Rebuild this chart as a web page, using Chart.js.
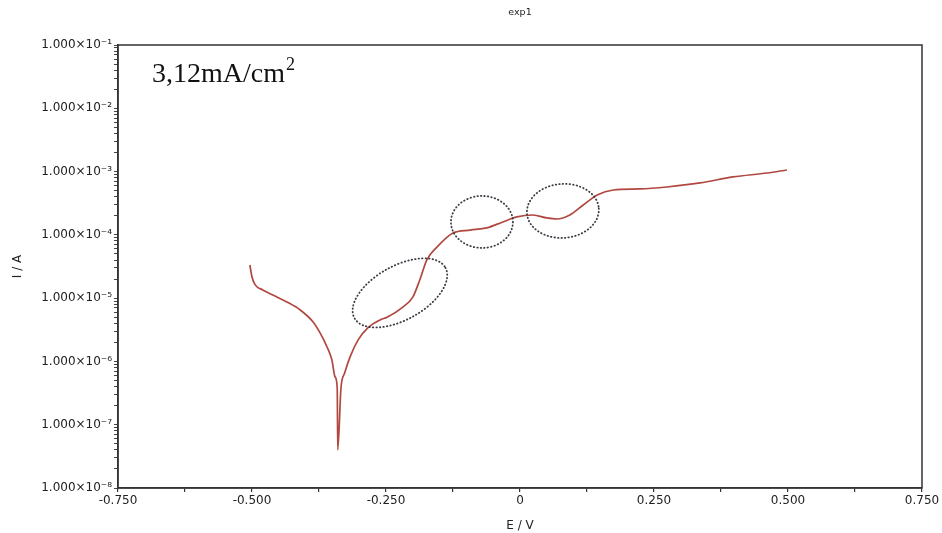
<!doctype html>
<html>
<head>
<meta charset="utf-8">
<title>exp1</title>
<script src="https://cdn.jsdelivr.net/npm/chart.js@4.4.1/dist/chart.umd.min.js"></script>
<style>
  html,body{margin:0;padding:0;background:#fff;}
</style>
</head>
<body>
<canvas id="tafel" width="942" height="533"></canvas>
<script>
// potentiodynamic sweep, E in volts, I in amperes
const potential = [-0.504, -0.500, -0.494, -0.480, -0.461, -0.435, -0.410, -0.386, -0.373, -0.360,
  -0.351, -0.345, -0.341, -0.340, -0.334, -0.327, -0.317, -0.302, -0.284, -0.261,
  -0.248, -0.218, -0.200, -0.187, -0.174, -0.155, -0.125, -0.093, -0.062, -0.032,
  -0.006, 0.024, 0.050, 0.069, 0.093, 0.118, 0.144, 0.174, 0.224, 0.274,
  0.336, 0.397, 0.461, 0.498];
const current = [3.34e-5, 2.16e-5, 1.62e-5, 1.35e-5, 1.12e-5, 8.7e-6, 6.5e-6, 4.2e-6, 2.82e-6, 1.69e-6,
  1.06e-6, 5.7e-7, 3.8e-7, 4.0e-8, 3.8e-7, 6.6e-7, 1.18e-6, 2.19e-6, 3.38e-6, 4.53e-6,
  5.0e-6, 7.3e-6, 1.04e-5, 1.94e-5, 4.0e-5, 6.4e-5, 1.07e-4, 1.19e-4, 1.29e-4, 1.60e-4,
  1.92e-4, 2.06e-4, 1.85e-4, 1.78e-4, 2.06e-4, 2.96e-4, 4.27e-4, 5.12e-4, 5.31e-4, 5.71e-4,
  6.61e-4, 8.22e-4, 9.5e-4, 1.06e-3];

// axis ticks
const eTicks = [-0.75, -0.625, -0.5, -0.375, -0.25, -0.125, 0, 0.125, 0.25, 0.375, 0.5, 0.625, 0.75];
const decades = [-8, -7, -6, -5, -4, -3, -2, -1];

// regions of interest circled on the curve (centre E, centre I)
const ringE = [-0.224, -0.071, 0.080];
const ringI = [1.21e-5, 1.6e-4, 2.39e-4];

const ringShape = [
  {rx: 52, ry: 27, tilt: -29},
  {rx: 31, ry: 26, tilt: 0},
  {rx: 36, ry: 27, tilt: -4}
];

const SUP = {'-': '\u207B', '0': '\u2070', '1': '\u00B9', '2': '\u00B2', '3': '\u00B3',
  '4': '\u2074', '5': '\u2075', '6': '\u2076', '7': '\u2077', '8': '\u2078', '9': '\u2079'};
const sup = s => String(s).split('').map(c => SUP[c]).join('');

const ink = '#222';
const font = {family: '"DejaVu Sans", Arial, sans-serif', size: 12};

// box around the plot + dotted rings + caption text
const extras = {
  id: 'extras',
  afterDatasetsDraw(chart) {
    const {ctx, chartArea: a, scales} = chart;
    ctx.save();
    ctx.strokeStyle = '#333';
    ctx.lineWidth = 1.5;
    ctx.strokeRect(a.left, a.top, a.right - a.left, a.bottom - a.top);

    ctx.strokeStyle = '#3a3d44';
    ctx.lineWidth = 1.8;
    ctx.lineCap = 'round';
    ctx.setLineDash([0.5, 3]);
    ringE.forEach((e, i) => {
      const s = ringShape[i];
      const cx = scales.x.getPixelForValue(e);
      const cy = scales.y.getPixelForValue(ringI[i]);
      ctx.beginPath();
      ctx.ellipse(cx, cy, s.rx, s.ry, s.tilt * Math.PI / 180, 0, Math.PI * 2);
      ctx.stroke();
    });
    ctx.setLineDash([]);

    ctx.fillStyle = '#111';
    ctx.font = '28px "Liberation Serif", "Times New Roman", serif';
    ctx.textBaseline = 'alphabetic';
    ctx.textAlign = 'left';
    const main = '3,12mA/cm';
    ctx.fillText(main, 152, 82);
    const w = ctx.measureText(main).width;
    ctx.font = '18px "Liberation Serif", "Times New Roman", serif';
    ctx.fillText('2', 152 + w + 1, 70);

    ctx.fillStyle = ink;
    ctx.font = '9.5px "DejaVu Sans", Arial, sans-serif';
    ctx.textAlign = 'center';
    ctx.fillText('exp1', (a.left + a.right) / 2, 15);
    ctx.restore();
  }
};

new Chart(document.getElementById('tafel'), {
  type: 'line',
  data: {
    datasets: [{
      data: potential.map((e, i) => ({x: e, y: current[i]})),
      borderColor: '#b04840',
      borderWidth: 1.7,
      pointRadius: 0,
      cubicInterpolationMode: 'monotone',
      fill: false
    }]
  },
  options: {
    responsive: false,
    animation: false,
    layout: {padding: {top: 45, right: 20, left: 0, bottom: 0}},
    plugins: {legend: {display: false}, tooltip: {enabled: false}, title: {display: false}},
    scales: {
      x: {
        type: 'linear',
        min: -0.75, max: 0.75,
        afterBuildTicks: s => { s.ticks = eTicks.map(v => ({value: v})); },
        afterFit: s => { s.height = 45; },
        grid: {drawOnChartArea: false, drawTicks: true, tickLength: 4, color: '#333', lineWidth: 1.2},
        border: {color: '#333', width: 1.5},
        ticks: {
          color: ink, font, padding: 2, maxRotation: 0, autoSkip: false,
          callback: v => {
            if (Math.abs(v / 0.25 - Math.round(v / 0.25)) > 1e-6) return '';
            return Math.abs(v) < 1e-9 ? '0' : v.toFixed(3);
          }
        },
        title: {display: true, text: 'E / V', color: ink, font, padding: {top: 3, bottom: 0}}
      },
      y: {
        type: 'logarithmic',
        min: 1e-8, max: 1e-1,
        afterBuildTicks: s => {
          const t = [];
          decades.forEach(d => {
            t.push({value: Math.pow(10, d), major: true});
            if (d < -1) for (let m = 2; m <= 9; m++) t.push({value: m * Math.pow(10, d)});
          });
          s.ticks = t;
        },
        afterFit: s => { s.width = 118; },
        grid: {drawOnChartArea: false, drawTicks: true, tickLength: 4, color: '#444', lineWidth: 1},
        border: {color: '#333', width: 1.5},
        ticks: {
          color: ink, font, padding: 2, autoSkip: false,
          callback: v => {
            const d = Math.round(Math.log10(v));
            if (Math.abs(v / Math.pow(10, d) - 1) > 1e-6) return '';
            return '1.000\u00D710' + sup(d);
          }
        },
        title: {display: true, text: 'I / A', color: ink, font, padding: {top: 11, bottom: 0}}
      }
    }
  },
  plugins: [extras]
});
</script>
</body>
</html>
